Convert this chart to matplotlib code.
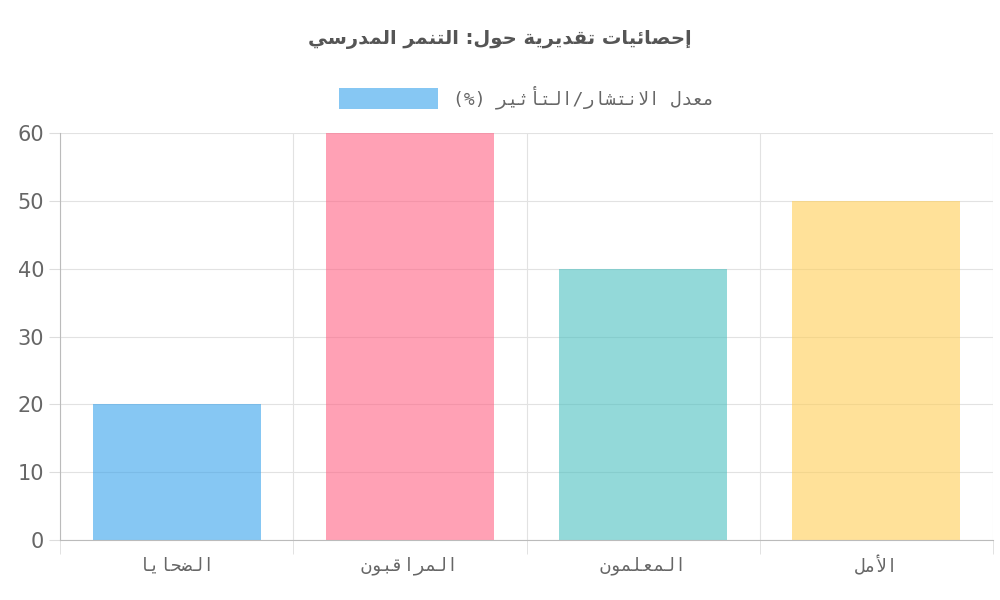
import unicodedata
import matplotlib.pyplot as plt

title = "إحصائيات تقديرية حول: التنمر المدرسي"
series_label = "معدل الانتشار/التأثير (%)"
categories = ["الضحايا", "المراقبون", "المعلمون", "الأمل"]
values = [20, 60, 40, 50]
colors = ["#36a2eb", "#ff6384", "#4bc0c0", "#ffce56"]


def form(ch, kind):
    try:
        return unicodedata.lookup(unicodedata.name(ch) + " " + kind + " FORM")
    except (KeyError, ValueError):
        return None


def is_ar(ch):
    return "\u0600" <= ch <= "\u06ff"


def shape(s):
    # merge lam + alef into ligatures
    chars = []
    i = 0
    while i < len(s):
        c = s[i]
        if c == "ل" and i + 1 < len(s) and s[i + 1] in "اأإآ":
            chars.append(("LIG", s[i + 1]))
            i += 2
        else:
            chars.append(c)
            i += 1
    out = []
    for k, c in enumerate(chars):
        prev = chars[k - 1] if k > 0 else None
        nxt = chars[k + 1] if k + 1 < len(chars) else None
        pj = prev is not None and not isinstance(prev, tuple) and is_ar(prev) and form(prev, "INITIAL") is not None
        if isinstance(c, tuple):
            base = "ARABIC LIGATURE LAM WITH " + unicodedata.name(c[1]).replace("ARABIC LETTER ", "")
            out.append(unicodedata.lookup(base + (" FINAL FORM" if pj else " ISOLATED FORM")))
            continue
        if not is_ar(c):
            out.append(c)
            continue
        nj = form(c, "INITIAL") is not None and nxt is not None and (isinstance(nxt, tuple) or is_ar(nxt))
        kind = {(True, True): "MEDIAL", (True, False): "FINAL", (False, True): "INITIAL", (False, False): "ISOLATED"}[(pj, nj)]
        out.append(form(c, kind) or c)
    vis = "".join(out)[::-1]
    return vis.translate(str.maketrans("()", ")("))


fig, ax = plt.subplots(figsize=(10, 6), dpi=100)
fig.subplots_adjust(left=0.06, right=0.993, top=0.778, bottom=0.1)

x = range(len(categories))
ax.bar(x, values, width=0.72, color=colors, alpha=0.6, zorder=2, label=shape(series_label))
ax.set_xlim(-0.5, len(categories) - 0.5)
ax.set_ylim(0, 60)
ax.set_yticks(range(0, 61, 10))
ax.set_xticks(list(x))
ax.set_xticklabels([shape(c) for c in categories], family="DejaVu Sans Mono", fontsize=13, color="#666666")
ax.set_xticks([i - 0.5 for i in range(len(categories) + 1)], minor=True)
ax.tick_params(axis="x", which="major", length=0, pad=12)
ax.tick_params(axis="x", which="minor", length=10, color="#dddddd")
ax.tick_params(axis="y", labelsize=15, labelcolor="#666666", length=8, color="#dddddd")
ax.grid(axis="y", color="#e2e2e2", zorder=0)
ax.grid(axis="x", which="minor", color="#e2e2e2", zorder=0)
for s in ["top", "right"]:
    ax.spines[s].set_visible(False)
ax.spines["left"].set_color("#bbbbbb")
ax.spines["bottom"].set_color("#bbbbbb")

leg = ax.legend(loc="lower center", bbox_to_anchor=(0.5, 1.02), frameon=False,
                prop={"family": "DejaVu Sans Mono", "size": 13}, handlelength=5.5, handleheight=1.4)
for t in leg.get_texts():
    t.set_color("#666666")
fig.suptitle(shape(title), y=0.95, fontsize=14, fontweight="bold", color="#555555", family="DejaVu Sans")

fig.savefig("out.png")
